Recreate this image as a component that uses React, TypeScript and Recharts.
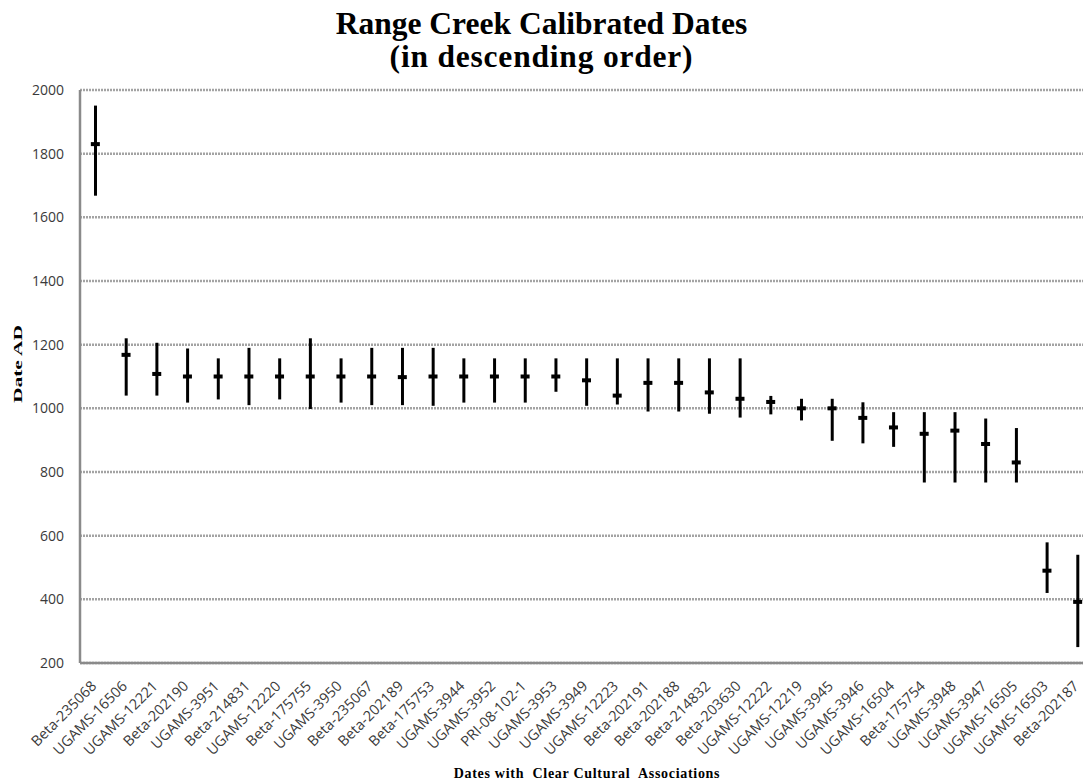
import { ComposedChart, Bar, Scatter, XAxis, YAxis, CartesianGrid } from "recharts";

// sample ids, left to right
const samples = [
  "Beta-235068", "UGAMS-16506", "UGAMS-12221", "Beta-202190", "UGAMS-3951", "Beta-214831",
  "UGAMS-12220", "Beta-175755", "UGAMS-3950", "Beta-235067", "Beta-202189", "Beta-175753",
  "UGAMS-3944", "UGAMS-3952", "PRI-08-102-1", "UGAMS-3953", "UGAMS-3949", "UGAMS-12223",
  "Beta-202191", "Beta-202188", "Beta-214832", "Beta-203630", "UGAMS-12222", "UGAMS-12219",
  "UGAMS-3945", "UGAMS-3946", "UGAMS-16504", "Beta-175754", "UGAMS-3948", "UGAMS-3947",
  "UGAMS-16505", "UGAMS-16503", "Beta-202187",
];

// calibrated midpoint (AD)
const midDates = [
  1830, 1168, 1108, 1100, 1100, 1100, 1100, 1100, 1100, 1100, 1098, 1100,
  1100, 1100, 1100, 1100, 1088, 1040, 1080, 1080, 1050, 1030, 1020, 1000,
  1000, 970, 940, 920, 930, 888, 830, 490, 392,
];

// lower end of range
const lowDates = [
  1668, 1040, 1040, 1018, 1028, 1010, 1028, 998, 1018, 1010, 1010, 1008,
  1018, 1018, 1018, 1052, 1008, 1012, 990, 990, 983, 971, 981, 962,
  898, 890, 879, 767, 767, 767, 767, 420, 250,
];

// upper end of range
const highDates = [
  1951, 1220, 1206, 1188, 1157, 1190, 1157, 1220, 1157, 1190, 1190, 1190,
  1157, 1157, 1157, 1157, 1157, 1157, 1157, 1157, 1157, 1157, 1039, 1030,
  1030, 1019, 988, 988, 988, 968, 938, 579, 540,
];

const yTicks = [200, 400, 600, 800, 1000, 1200, 1400, 1600, 1800, 2000];

const data = samples.map((name, i) => ({
  name,
  mid: midDates[i],
  range: [lowDates[i], highDates[i]],
}));

const MidMark = (props: any) => {
  const { cx, cy } = props;
  if (cx == null || cy == null) return null;
  return <rect x={cx - 4.5} y={cy - 2} width={9} height={4} fill="#000" />;
};

const XTick = (props: any) => {
  const { x, y, payload } = props;
  const ax = x + 2;
  const ay = y + 16;
  return (
    <text
      x={ax}
      y={ay}
      transform={`rotate(-45 ${ax} ${ay})`}
      textAnchor="end"
      fontSize={14.5}
      fontFamily="'Open Sans', sans-serif"
      fill="#3a3a3a"
    >
      {payload.value}
    </text>
  );
};

export default function App() {
  return (
    <div
      style={{
        position: "fixed",
        left: 0,
        top: 0,
        width: 1083,
        height: 783,
        overflow: "hidden",
        background: "#fff",
      }}
    >
      <div
        style={{
          position: "absolute",
          top: 7,
          left: 0,
          width: 1083,
          textAlign: "center",
          fontFamily: "'Liberation Serif', 'Times New Roman', serif",
          fontWeight: "bold",
          fontSize: 31.5,
          lineHeight: "33px",
          color: "#000",
        }}
      >
        Range Creek Calibrated Dates
        <br />
        <span style={{ letterSpacing: 0.8 }}>(in descending order)</span>
      </div>
      <div
        style={{
          position: "absolute",
          left: 18,
          top: 364,
          transform: "translate(-50%, -50%) rotate(-90deg) scaleX(1.65)",
          fontFamily: "'Liberation Serif', serif",
          fontWeight: "bold",
          fontSize: 13,
          whiteSpace: "nowrap",
        }}
      >
        Date AD
      </div>
      <div
        style={{
          position: "absolute",
          left: 587,
          top: 774,
          transform: "translate(-50%, -50%)",
          fontFamily: "'Liberation Serif', serif",
          fontWeight: "bold",
          fontSize: 14,
          letterSpacing: 0.7,
          whiteSpace: "nowrap",
        }}
      >
        Dates with&nbsp; Clear Cultural&nbsp; Associations
      </div>
      <div style={{ position: "absolute", left: 0, top: 0 }}>
        <ComposedChart
          width={1094}
          height={783}
          data={data}
          margin={{ top: 90, right: 1, bottom: 10, left: 20 }}
        >
          <CartesianGrid vertical={false} stroke="#a3a3a3" strokeWidth={2.5} strokeDasharray="2 1" />
          <XAxis
            dataKey="name"
            interval={0}
            tick={<XTick />}
            tickLine={false}
            axisLine={{ stroke: "#8a8a8a", strokeWidth: 2.5 }}
            height={110}
          />
          <YAxis
            width={60}
            domain={[200, 2000]}
            ticks={yTicks}
            interval={0}
            tickLine={false}
            axisLine={{ stroke: "#8a8a8a", strokeWidth: 2.5 }}
            tick={{ fill: "#3a3a3a", fontSize: 14, fontFamily: "'Open Sans', sans-serif" }}
            tickMargin={10}
          />
          <Bar dataKey="range" barSize={3} fill="#000" isAnimationActive={false} />
          <Scatter dataKey="mid" shape={<MidMark />} isAnimationActive={false} />
        </ComposedChart>
      </div>
    </div>
  );
}
